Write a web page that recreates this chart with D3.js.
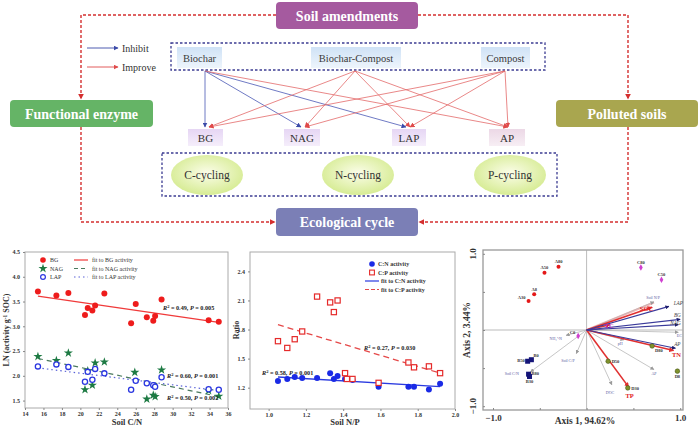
<!DOCTYPE html>
<html>
<head>
<meta charset="utf-8">
<script src="https://cdn.jsdelivr.net/npm/d3@7"></script>
<style>
  body { margin: 0; background: #fff; }
  text { font-family: "Liberation Serif", "Times New Roman", serif; }
</style>
</head>
<body>
<div id="chart"></div>
<script>
// ---------------- data ----------------
// top diagram
const titles = ["Soil amendments", "Functional enzyme", "Polluted soils", "Ecological cycle"];
const amendments = ["Biochar", "Biochar-Compost", "Compost"];
const enzymes = ["BG", "NAG", "LAP", "AP"];
const cycles = ["C-cycling", "N-cycling", "P-cycling"];
const effects = [
  ["Biochar", "BG", "inhibit"], ["Biochar", "NAG", "inhibit"], ["Biochar", "LAP", "inhibit"], ["Biochar", "AP", "improve"],
  ["Biochar-Compost", "BG", "improve"], ["Biochar-Compost", "NAG", "improve"], ["Biochar-Compost", "LAP", "improve"], ["Biochar-Compost", "AP", "improve"],
  ["Compost", "BG", "improve"], ["Compost", "NAG", "improve"], ["Compost", "LAP", "improve"], ["Compost", "AP", "improve"]
];

// panel 1: LN(activity) vs soil C/N
const cnTicks = [14, 16, 18, 20, 22, 24, 26, 28, 30, 32, 34, 36];
const lnTicks = [1.5, 2.0, 2.5, 3.0, 3.5, 4.0, 4.5];
const bgData = [[15.4,3.70],[17.4,3.62],[18.7,3.67],[20.5,3.23],[20.8,3.37],[21.3,3.32],[21.6,3.42],[22.6,3.66],
  [25.5,3.06],[26.0,3.45],[27.2,3.18],[27.9,3.11],[28.1,3.21],[28.8,3.54],[33.9,3.12],[35.0,3.09]];
const nagData = [[15.4,2.39],[17.4,2.31],[18.7,2.46],[20.5,1.72],[20.8,2.10],[21.3,1.81],[21.6,2.26],[22.6,2.28],
  [25.9,2.07],[27.2,1.53],[27.9,1.61],[28.1,1.58],[28.8,2.12],[33.9,1.70],[35.0,1.59]];
const lapData = [[15.4,2.19],[17.4,2.23],[18.7,2.18],[20.5,1.88],[20.8,2.08],[21.3,1.92],[21.6,2.14],[22.6,2.05],
  [25.5,1.72],[26.0,1.90],[27.2,1.85],[27.9,1.81],[28.1,1.78],[28.8,1.97],[33.9,1.73],[35.0,1.72]];
const bgFit = [[15.4,3.61],[35.0,3.08]];
const nagFit = [[15.4,2.35],[35.0,1.58]];
const lapFit = [[15.4,2.16],[35.0,1.70]];

// panel 2: ratio vs soil N/P
const npTicks = [1.0, 1.2, 1.4, 1.6, 1.8, 2.0];
const ratioTicks = [1.2, 1.5, 1.8, 2.1, 2.4];
const cnAct = [[1.05,1.27],[1.10,1.29],[1.14,1.31],[1.18,1.30],[1.26,1.30],[1.33,1.35],[1.35,1.29],[1.37,1.32],
  [1.41,1.29],[1.45,1.28],[1.59,1.21],[1.75,1.21],[1.78,1.21],[1.86,1.18],[1.92,1.24]];
const cpAct = [[1.05,1.68],[1.10,1.61],[1.14,1.70],[1.18,1.78],[1.26,2.14],[1.33,2.08],[1.35,1.98],[1.37,2.10],
  [1.41,1.35],[1.42,1.29],[1.45,1.29],[1.59,1.25],[1.75,1.46],[1.78,1.41],[1.86,1.42],[1.92,1.35]];
const cnFit = [[1.05,1.31],[1.92,1.21]];
const cpFit = [[1.05,1.85],[1.92,1.35]];

// panel 3: RDA biplot
const axisTicks = [-1.0, -0.5, 0, 0.5, 1.0];
const aSamples = [["A80",-0.30,0.83],["A50",-0.45,0.75],["A8",-0.56,0.47],["A30",-0.62,0.38]];
const cSamples = [["C80",0.58,0.82],["C50",0.80,0.66],["C0",-0.09,-0.08]];
const bSamples = [["B50",-0.63,-0.41],["B0",-0.59,-0.39],["B80",-0.62,-0.58],["B30",-0.61,-0.61]];
const dSamples = [["D50",0.23,-0.41],["D80",0.70,-0.21],["D8",0.97,-0.54],["D30",0.44,-0.76]];
// [name, arrow x, arrow y, group, label x, label y]
const vectors = [
  ["Soil C/N",-0.60,-0.55,"env",-0.80,-0.57],["NH\u2084\u207A-N",-0.22,-0.07,"env",-0.33,-0.11],
  ["Soil C/P",-0.11,-0.31,"env",-0.20,-0.40],["pH",0.40,-0.13,"env",0.36,-0.17],
  ["DOC",0.27,-0.72,"env",0.25,-0.81],["AP",0.72,-0.52,"env",0.72,-0.56],
  ["EC",0.98,-0.03,"env",0.99,-0.07],["Soil N/P",0.72,0.37,"env",0.71,0.43],
  ["SOC",0.70,0.30,"soil",0.64,0.27],["TC",0.25,0.07,"soil",0.24,0.05],
  ["TN",0.93,-0.27,"soil",0.96,-0.33],["TP",0.45,-0.75,"soil",0.46,-0.86],
  ["LAP",0.88,0.31,"enzyme",0.98,0.36],["BG",1.0,0.14,"enzyme",0.97,0.20],
  ["NAG",0.98,0.07,"enzyme",0.95,0.09],["AP ",0.95,-0.24,"enzyme",0.97,-0.18]
];

// ---------------- svg ----------------
const svg = d3.select("#chart").append("svg").attr("width", 700).attr("height", 427);
const defs = svg.append("defs");

function head(id, color, size) {
  defs.append("marker").attr("id", id)
    .attr("viewBox", "0 0 10 10").attr("refX", 9).attr("refY", 5)
    .attr("markerWidth", size).attr("markerHeight", size)
    .attr("markerUnits", "userSpaceOnUse").attr("orient", "auto")
    .append("path").attr("d", "M0,0 L10,5 L0,10 z").attr("fill", color);
}
head("redHead", "#d42f2f", 6);
head("blueSm", "#3b4aa8", 5);
head("redSm", "#df4a4a", 5);
head("grayHead", "#9a9a9a", 4);
head("navyHead", "#1d1d6b", 4);
head("redVec", "#e03030", 5);

function vgrad(id, top, bottom) {
  const lg = defs.append("linearGradient").attr("id", id).attr("x1", 0).attr("y1", 0).attr("x2", 0).attr("y2", 1);
  lg.append("stop").attr("offset", "0%").attr("stop-color", top);
  lg.append("stop").attr("offset", "100%").attr("stop-color", bottom);
}
vgrad("amendFill", "#cfe2f6", "#eef5fc");
vgrad("enzFill", "#e6d6f4", "#f5eefb");
vgrad("apFill", "#ecd8e6", "#f7eef4");
const rg = defs.append("radialGradient").attr("id", "cycFill").attr("cx", "50%").attr("cy", "45%").attr("r", "60%");
rg.append("stop").attr("offset", "0%").attr("stop-color", "#fbfde9");
rg.append("stop").attr("offset", "100%").attr("stop-color", "#d3ea8c");

// ---------------- top diagram ----------------
const diag = svg.append("g");

// red dashed loop
const loop = [
  [[276,15],[81,15],[81,99]],
  [[418,15],[628,15],[628,99]],
  [[81,127],[81,222],[275,222]],
  [[628,127],[628,222],[419,222]]
];
diag.selectAll(".loop").data(loop).join("path")
  .attr("d", d3.line())
  .attr("fill", "none").attr("stroke", "#d42f2f").attr("stroke-width", 1.4)
  .attr("stroke-dasharray", "3,2").attr("marker-end", "url(#redHead)");

// title boxes
const titleBox = {
  "Soil amendments":   {x: 276, y: 2,   w: 142, h: 27, fill: "#a55a9f"},
  "Functional enzyme": {x: 10,  y: 100, w: 143, h: 27, fill: "#65b466"},
  "Polluted soils":    {x: 556, y: 100, w: 142, h: 27, fill: "#a9a64f"},
  "Ecological cycle":  {x: 276, y: 208, w: 142, h: 28, fill: "#7b7fb6"}
};
titles.forEach(t => {
  const b = titleBox[t];
  diag.append("rect").attr("x", b.x).attr("y", b.y).attr("width", b.w).attr("height", b.h)
    .attr("rx", 4).attr("fill", b.fill);
  diag.append("text").attr("x", b.x + b.w / 2).attr("y", b.y + b.h / 2 + 5)
    .attr("text-anchor", "middle").attr("fill", "#fff").attr("font-weight", "bold")
    .attr("font-size", 14).text(t);
});

// legend
[["Inhibit", "#3b4aa8", "url(#blueSm)", 48], ["Improve", "#df4a4a", "url(#redSm)", 67]].forEach(l => {
  diag.append("line").attr("x1", 87).attr("x2", 118).attr("y1", l[3]).attr("y2", l[3])
    .attr("stroke", l[1]).attr("stroke-width", 0.9).attr("marker-end", l[2]);
  diag.append("text").attr("x", 122).attr("y", l[3] + 3.5).attr("font-size", 10).attr("fill", "#333").text(l[0]);
});

// dashed navy boxes
diag.append("rect").attr("x", 171).attr("y", 43).attr("width", 374).attr("height", 27)
  .attr("fill", "none").attr("stroke", "#3c3c92").attr("stroke-width", 1.3).attr("stroke-dasharray", "2.5,2");
diag.append("rect").attr("x", 162).attr("y", 153).attr("width", 395).attr("height", 43)
  .attr("fill", "none").attr("stroke", "#3c3c92").attr("stroke-width", 1.3).attr("stroke-dasharray", "2.5,2");

// amendment labels
const amendBox = {"Biochar": [177, 222], "Biochar-Compost": [311, 401], "Compost": [481, 530]};
const amendSrc = {"Biochar": 205, "Biochar-Compost": 355, "Compost": 505};
amendments.forEach(a => {
  const [x0, x1] = amendBox[a];
  diag.append("rect").attr("x", x0).attr("y", 47).attr("width", x1 - x0).attr("height", 21).attr("fill", "url(#amendFill)");
  diag.append("text").attr("x", (x0 + x1) / 2).attr("y", 62).attr("text-anchor", "middle")
    .attr("font-size", 10.5).attr("fill", "#3a3a3a").text(a);
});

// enzyme labels
const enzBox = {"BG": [188, 223], "NAG": [284, 320], "LAP": [392, 426], "AP": [489, 525]};
const enzTarget = {"BG": 207, "NAG": 303, "LAP": 408, "AP": 506};
enzymes.forEach(e => {
  const [x0, x1] = enzBox[e];
  diag.append("rect").attr("x", x0).attr("y", 129).attr("width", x1 - x0).attr("height", 17)
    .attr("fill", e === "AP" ? "url(#apFill)" : "url(#enzFill)");
  diag.append("text").attr("x", (x0 + x1) / 2).attr("y", 142).attr("text-anchor", "middle")
    .attr("font-size", 11).attr("fill", "#333").text(e);
});

// effect arrows
diag.selectAll(".eff").data(effects).join("line")
  .attr("x1", d => amendSrc[d[0]]).attr("y1", 71)
  .attr("x2", d => enzTarget[d[1]] + (d[2] === "inhibit" ? -2 : 2)).attr("y2", 127)
  .attr("stroke", d => d[2] === "inhibit" ? "#4a58b5" : "#e36a6a")
  .attr("stroke-width", 0.8)
  .attr("marker-end", d => d[2] === "inhibit" ? "url(#blueSm)" : "url(#redSm)");

// cycles
const cycX = {"C-cycling": 207, "N-cycling": 358, "P-cycling": 510};
cycles.forEach(c => {
  diag.append("ellipse").attr("cx", cycX[c]).attr("cy", 175).attr("rx", 36).attr("ry", 20).attr("fill", "url(#cycFill)");
  diag.append("text").attr("x", cycX[c]).attr("y", 179).attr("text-anchor", "middle")
    .attr("font-size", 11.5).attr("fill", "#333").text(c);
});

// ---------------- helpers ----------------
function styleAxis(g, size) {
  g.select(".domain").remove();
  g.selectAll(".tick line").attr("stroke", "#888");
  g.selectAll(".tick text").attr("font-family", '"Liberation Serif", serif').attr("font-weight", "bold")
    .attr("font-size", size).attr("fill", "#333");
}
function r2(g, x, y, r, p) {
  const t = g.append("text").attr("x", x).attr("y", y).attr("font-size", 6.2).attr("fill", "#222").attr("font-weight", "bold");
  t.append("tspan").attr("font-style", "italic").text("R");
  t.append("tspan").attr("dy", -2.5).attr("font-size", 4.5).text("2");
  t.append("tspan").attr("dy", 2.5).text(" = " + r + ", ");
  t.append("tspan").attr("font-style", "italic").text("P");
  t.append("tspan").text(" = " + p);
}

// ---------------- panel 1 ----------------
const p1 = svg.append("g");
const x1 = d3.scaleLinear().domain([14, 36]).range([25, 228]);
const y1 = d3.scaleLinear().domain([1.35, 4.5]).range([408, 252]);
p1.append("rect").attr("x", 25).attr("y", 252).attr("width", 203).attr("height", 156)
  .attr("fill", "none").attr("stroke", "#aaa").attr("stroke-width", 1);
p1.append("g").attr("transform", "translate(0,408)")
  .call(d3.axisBottom(x1).tickValues(cnTicks).tickSize(2).tickPadding(1.5).tickFormat(d3.format("d")))
  .call(g => styleAxis(g, 6));
p1.append("g").attr("transform", "translate(25,0)")
  .call(d3.axisLeft(y1).tickValues(lnTicks).tickSize(2).tickPadding(3).tickFormat(d3.format(".1f")))
  .call(g => styleAxis(g, 6));
p1.append("text").attr("x", 127).attr("y", 425).attr("text-anchor", "middle")
  .attr("font-size", 8.5).attr("font-weight", "bold").attr("fill", "#333").text("Soil C/N");
const yl1 = p1.append("text").attr("transform", "translate(9,330) rotate(-90)").attr("text-anchor", "middle")
  .attr("font-size", 8).attr("font-weight", "bold").attr("fill", "#333");
yl1.append("tspan").text("LN (activity g");
yl1.append("tspan").attr("dy", -2.5).attr("font-size", 5.5).text("-1");
yl1.append("tspan").attr("dy", 2.5).text(" SOC)");

const line1 = d3.line().x(d => x1(d[0])).y(d => y1(d[1]));
p1.append("path").attr("d", line1(bgFit)).attr("stroke", "#f03a3a").attr("stroke-width", 1.3).attr("fill", "none");
p1.append("path").attr("d", line1(nagFit)).attr("stroke", "#4a7a5e").attr("stroke-width", 1.2).attr("stroke-dasharray", "5,4").attr("fill", "none");
p1.append("path").attr("d", line1(lapFit)).attr("stroke", "#5a62d8").attr("stroke-width", 1.2).attr("stroke-dasharray", "1.5,3").attr("fill", "none");

const star = d3.symbol().type(d3.symbolStar).size(26);
p1.selectAll(".bg").data(bgData).join("circle")
  .attr("cx", d => x1(d[0])).attr("cy", d => y1(d[1])).attr("r", 3).attr("fill", "#ee1c1c");
p1.selectAll(".nag").data(nagData).join("path")
  .attr("d", star).attr("transform", d => `translate(${x1(d[0])},${y1(d[1])})`).attr("fill", "#1d7a43");
p1.selectAll(".lap").data(lapData).join("circle")
  .attr("cx", d => x1(d[0])).attr("cy", d => y1(d[1])).attr("r", 2.6)
  .attr("fill", "#fff").attr("stroke", "#2a36e0").attr("stroke-width", 1.3);

r2(p1, 163, 310, "0.49", "0.005");
r2(p1, 167, 378, "0.60", "0.001");
r2(p1, 167, 400, "0.50", "0.002");

// legend 1
const lg1 = [["BG", "fit to BG activity"], ["NAG", "fit to NAG activity"], ["LAP", "fit to LAP activity"]];
lg1.forEach((d, i) => {
  const yy = 260 + i * 8.5;
  if (i === 0) p1.append("circle").attr("cx", 43).attr("cy", yy).attr("r", 2.8).attr("fill", "#ee1c1c");
  if (i === 1) p1.append("path").attr("d", star).attr("transform", `translate(43,${yy})`).attr("fill", "#1d7a43");
  if (i === 2) p1.append("circle").attr("cx", 43).attr("cy", yy).attr("r", 2.4).attr("fill", "#fff").attr("stroke", "#2a36e0").attr("stroke-width", 1.2);
  p1.append("text").attr("x", 50).attr("y", yy + 2).attr("font-size", 6).attr("fill", "#333").text(d[0]);
  p1.append("line").attr("x1", 74).attr("x2", 88).attr("y1", yy).attr("y2", yy)
    .attr("stroke", ["#f03a3a", "#4a7a5e", "#5a62d8"][i]).attr("stroke-width", 1.2)
    .attr("stroke-dasharray", [null, "4,3", "1.5,3"][i]);
  p1.append("text").attr("x", 92).attr("y", yy + 2).attr("font-size", 6).attr("fill", "#333").text(d[1]);
});

// ---------------- panel 2 ----------------
const p2 = svg.append("g");
const x2 = d3.scaleLinear().domain([0.9, 2.0]).range([250, 455]);
const y2 = d3.scaleLinear().domain([0.98, 2.6]).range([409, 252]);
p2.append("rect").attr("x", 250).attr("y", 252).attr("width", 205).attr("height", 157)
  .attr("fill", "none").attr("stroke", "#aaa").attr("stroke-width", 1);
p2.append("g").attr("transform", "translate(0,409)")
  .call(d3.axisBottom(x2).tickValues(npTicks).tickSize(2).tickPadding(1.5).tickFormat(d3.format(".1f")))
  .call(g => styleAxis(g, 6));
p2.append("g").attr("transform", "translate(250,0)")
  .call(d3.axisLeft(y2).tickValues(ratioTicks).tickSize(2).tickPadding(3).tickFormat(d3.format(".1f")))
  .call(g => styleAxis(g, 6));
p2.append("text").attr("x", 345).attr("y", 425).attr("text-anchor", "middle")
  .attr("font-size", 8.5).attr("font-weight", "bold").attr("fill", "#333").text("Soil N/P");
p2.append("text").attr("transform", "translate(239,330) rotate(-90)").attr("text-anchor", "middle")
  .attr("font-size", 8).attr("font-weight", "bold").attr("fill", "#333").text("Ratio");

const line2 = d3.line().x(d => x2(d[0])).y(d => y2(d[1]));
p2.append("path").attr("d", line2(cnFit)).attr("stroke", "#2a3ae0").attr("stroke-width", 1.3).attr("fill", "none");
p2.append("path").attr("d", line2(cpFit)).attr("stroke", "#e54848").attr("stroke-width", 1.3).attr("stroke-dasharray", "6,4").attr("fill", "none");
p2.selectAll(".cn").data(cnAct).join("circle")
  .attr("cx", d => x2(d[0])).attr("cy", d => y2(d[1])).attr("r", 3).attr("fill", "#1a2ae6");
p2.selectAll(".cp").data(cpAct).join("rect")
  .attr("x", d => x2(d[0]) - 2.6).attr("y", d => y2(d[1]) - 2.6).attr("width", 5.2).attr("height", 5.2)
  .attr("fill", "#fff").attr("stroke", "#e52a2a").attr("stroke-width", 1.2);
r2(p2, 262, 375, "0.58", "0.001");
r2(p2, 364, 350, "0.27", "0.030");

const lg2 = ["C:N activity", "C:P activity", "fit to C:N activity", "fit to C:P activity"];
lg2.forEach((d, i) => {
  const yy = 264 + i * 8.5;
  if (i === 0) p2.append("circle").attr("cx", 372).attr("cy", yy).attr("r", 2.8).attr("fill", "#1a2ae6");
  if (i === 1) p2.append("rect").attr("x", 369.6).attr("y", yy - 2.4).attr("width", 4.8).attr("height", 4.8)
    .attr("fill", "#fff").attr("stroke", "#e52a2a").attr("stroke-width", 1.1);
  if (i === 2) p2.append("line").attr("x1", 365).attr("x2", 379).attr("y1", yy).attr("y2", yy).attr("stroke", "#2a3ae0").attr("stroke-width", 1.2);
  if (i === 3) p2.append("line").attr("x1", 365).attr("x2", 379).attr("y1", yy).attr("y2", yy).attr("stroke", "#e54848").attr("stroke-width", 1.2).attr("stroke-dasharray", "4,2");
  p2.append("text").attr("x", i < 2 ? 378 : 381).attr("y", yy + 2).attr("font-size", 6).attr("font-weight", "bold").attr("fill", "#333").text(d);
});

// ---------------- panel 3 ----------------
const p3 = svg.append("g");
const x3 = d3.scaleLinear().domain([-1.107, 1.03]).range([483, 683]);
const y3 = d3.scaleLinear().domain([-1.05, 1.05]).range([410, 250]);
p3.append("rect").attr("x", 483).attr("y", 250).attr("width", 200).attr("height", 160)
  .attr("fill", "none").attr("stroke", "#999").attr("stroke-width", 1.3);
p3.append("line").attr("x1", x3(0)).attr("x2", x3(0)).attr("y1", 250).attr("y2", 410).attr("stroke", "#aaa").attr("stroke-width", 0.8);
p3.append("line").attr("x1", 483).attr("x2", 683).attr("y1", y3(0)).attr("y2", y3(0)).attr("stroke", "#aaa").attr("stroke-width", 0.8);
p3.append("g").attr("transform", "translate(0,410)")
  .call(d3.axisBottom(x3).tickValues(axisTicks).tickSize(-2).tickPadding(5)
    .tickFormat(d => Math.abs(d) === 1 ? d3.format(".1f")(d) : ""))
  .call(g => styleAxis(g, 9));
p3.append("g").attr("transform", "translate(483,0)")
  .call(d3.axisLeft(y3).tickValues(axisTicks).tickSize(-2).tickFormat(""))
  .call(g => styleAxis(g, 9));
[-1, 1].forEach(v => {
  p3.append("text").attr("transform", `translate(476,${y3(v)}) rotate(-90)`).attr("text-anchor", "middle")
    .attr("font-size", 9).attr("font-weight", "bold").attr("fill", "#333").text(d3.format(".1f")(v));
});
p3.append("text").attr("x", 585).attr("y", 424).attr("text-anchor", "middle")
  .attr("font-size", 9.5).attr("font-weight", "bold").attr("fill", "#333").text("Axis 1, 94.62%");
p3.append("text").attr("transform", "translate(470,330) rotate(-90)").attr("text-anchor", "middle")
  .attr("font-size", 9.5).attr("font-weight", "bold").attr("fill", "#333").text("Axis 2, 3.44%");

const vecStyle = {
  env:    {stroke: "#b8b8b8", width: 0.8, head: "url(#grayHead)", text: "#5a5aa0", size: 4},
  soil:   {stroke: "#e03030", width: 1.6, head: "url(#redVec)", text: "#e02020", size: 6.5},
  enzyme: {stroke: "#3a3a9a", width: 1.2, head: "url(#navyHead)", text: "#444", size: 5.2}
};
// light pink companion of SOC
p3.append("line").attr("x1", x3(0)).attr("y1", y3(0)).attr("x2", x3(0.72)).attr("y2", y3(0.36))
  .attr("stroke", "#f4b4b4").attr("stroke-width", 2.2);
p3.selectAll(".vec").data(vectors).join("line")
  .attr("x1", x3(0)).attr("y1", y3(0)).attr("x2", d => x3(d[1])).attr("y2", d => y3(d[2]))
  .attr("stroke", d => vecStyle[d[3]].stroke).attr("stroke-width", d => vecStyle[d[3]].width)
  .attr("marker-end", d => vecStyle[d[3]].head);
p3.selectAll(".vlab").data(vectors).join("text")
  .attr("x", d => x3(d[4])).attr("y", d => y3(d[5]) + 2)
  .attr("text-anchor", "middle")
  .attr("font-size", d => vecStyle[d[3]].size).attr("font-style", d => d[3] === "enzyme" ? "italic" : null)
  .attr("font-weight", d => d[3] === "soil" ? "bold" : null)
  .attr("fill", d => d[0] === "TC" ? "#c030c0" : vecStyle[d[3]].text).text(d => d[0].trim());

// label placement next to each sample: [dx, dy, anchor]
const sampleLabel = {
  A30: [-3, -2, "end"], C0: [-3, -2.5, "end"],
  B50: [-3, 1, "end"], B0: [2, -3, "start"], B80: [3, 1, "start"], B30: [0, 7, "middle"],
  D50: [3.5, 1.5, "start"], D80: [3, 6, "start"], D8: [0, 7, "middle"], D30: [3.5, 2, "start"]
};
function samples(data, draw) {
  const g = p3.append("g");
  data.forEach(d => {
    draw(g, x3(d[1]), y3(d[2]));
    const [dx, dy, anchor] = sampleLabel[d[0]] || [0, -3.5, "middle"];
    g.append("text").attr("x", x3(d[1]) + dx).attr("y", y3(d[2]) + dy).attr("text-anchor", anchor)
      .attr("font-size", 4.5).attr("font-weight", "bold").attr("fill", "#333").text(d[0]);
  });
}
samples(aSamples, (g, x, y) => g.append("circle").attr("cx", x).attr("cy", y).attr("r", 2).attr("fill", "#e41818"));
samples(cSamples, (g, x, y) => g.append("path").attr("d", d3.symbol().type(d3.symbolDiamond).size(12)()).attr("transform", `translate(${x},${y})`).attr("fill", "#d040d0"));
samples(bSamples, (g, x, y) => g.append("rect").attr("x", x - 2.5).attr("y", y - 2.5).attr("width", 5).attr("height", 5).attr("fill", "#141478"));
samples(dSamples, (g, x, y) => g.append("circle").attr("cx", x).attr("cy", y).attr("r", 2.3).attr("fill", "#7f922c").attr("stroke", "#3d4a10").attr("stroke-width", 0.5));
</script>
</body>
</html>
